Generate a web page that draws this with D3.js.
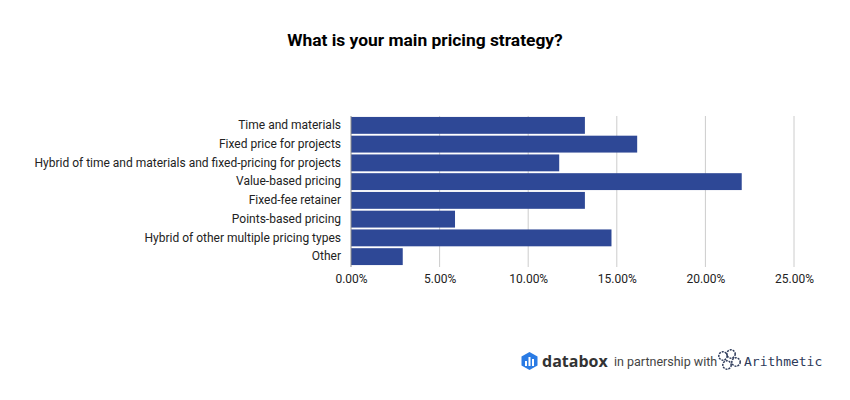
<!DOCTYPE html>
<html><head><meta charset="utf-8">
<script src="https://cdn.jsdelivr.net/npm/d3@7/dist/d3.min.js"></script>
<style>body{margin:0;background:#fff;} svg{display:block;}</style>
</head><body>
<svg id="chart" width="850" height="400"></svg>
<script>
const categories = ["Time and materials","Fixed price for projects","Hybrid of time and materials and fixed-pricing for projects","Value-based pricing","Fixed-fee retainer","Points-based pricing","Hybrid of other multiple pricing types","Other"];
const values = [13.2, 16.15, 11.75, 22.05, 13.2, 5.87, 14.7, 2.92];
const tickValues = [0, 5, 10, 15, 20, 25];
const title = "What is your main pricing strategy?";

const svg = d3.select("#chart");
const x = d3.scaleLinear().domain([0, 25]).range([351, 794]);
const y = d3.scaleBand().domain(categories).range([116, 266]).paddingInner(0.1).paddingOuter(0.05);

svg.append("text").attr("x", 425).attr("y", 46).attr("text-anchor", "middle")
  .attr("font-family", "Roboto").attr("font-weight", "bold").attr("font-size", 17.4).attr("fill", "#000").text(title);

const grid = svg.append("g");
grid.selectAll("line").data(tickValues.slice(1)).join("line")
  .attr("x1", d => x(d)).attr("x2", d => x(d)).attr("y1", 116).attr("y2", 267)
  .attr("stroke", "#cccccc").attr("stroke-width", 1);

svg.append("g").selectAll("rect").data(values).join("rect")
  .attr("x", x(0)).attr("y", (d, i) => y(categories[i]))
  .attr("width", d => x(d) - x(0)).attr("height", y.bandwidth())
  .attr("fill", "#2e4896");

svg.append("line").attr("x1", x(0)).attr("x2", x(0)).attr("y1", 116).attr("y2", 267).attr("stroke", "#8a8a8a").attr("stroke-width", 1);

const xAxis = d3.axisBottom(x).tickValues(tickValues).tickSize(0).tickPadding(0).tickFormat(d => d.toFixed(2) + "%");
const gx = svg.append("g").attr("transform", "translate(0,283)").call(xAxis);
gx.select(".domain").remove();
gx.selectAll("text").attr("font-family", "Roboto").attr("font-size", 12).attr("fill", "#222").attr("dy", 0);

const yAxis = d3.axisLeft(y).tickSize(0).tickPadding(10);
const gy = svg.append("g").attr("transform", "translate(351,0)").call(yAxis);
gy.select(".domain").remove();
gy.selectAll("text").attr("font-family", "Roboto").attr("font-size", 12).attr("fill", "#222");

// footer
const f = svg.append("g");
f.append("path").attr("d", "M529.5,352 L537.5,356.5 L537.5,365.5 L529.5,370 L521.5,365.5 L521.5,356.5 Z").attr("fill", "#2a7be4");
f.append("rect").attr("x", 525).attr("y", 361).attr("width", 2).attr("height", 5).attr("fill", "#fff");
f.append("rect").attr("x", 528.5).attr("y", 357).attr("width", 2).attr("height", 9).attr("fill", "#fff");
f.append("rect").attr("x", 532).attr("y", 359).attr("width", 2).attr("height", 7).attr("fill", "#fff");
f.append("text").attr("x", 542).attr("y", 367).attr("font-family", "Open Sans").attr("font-weight", "bold").attr("font-size", 16).attr("fill", "#333").text("databox");
f.append("text").attr("x", 614).attr("y", 366).attr("font-family", "Roboto").attr("font-size", 12.5).attr("fill", "#444").text("in partnership with");
[[723,356,4.2],[731,354,4.2],[736,362,4.2],[727,365,4.2]].forEach(([cx,cy,r]) => {
  f.append("circle").attr("cx", cx).attr("cy", cy).attr("r", r).attr("fill", "none").attr("stroke", "#2d3a5a").attr("stroke-width", 1.5).attr("stroke-dasharray", "2,1");
});
f.append("text").attr("x", 744).attr("y", 366).attr("font-family", "DejaVu Sans Mono").attr("font-size", 13).attr("fill", "#2d3a5a").text("Arithmetic");
</script>
</body></html>
